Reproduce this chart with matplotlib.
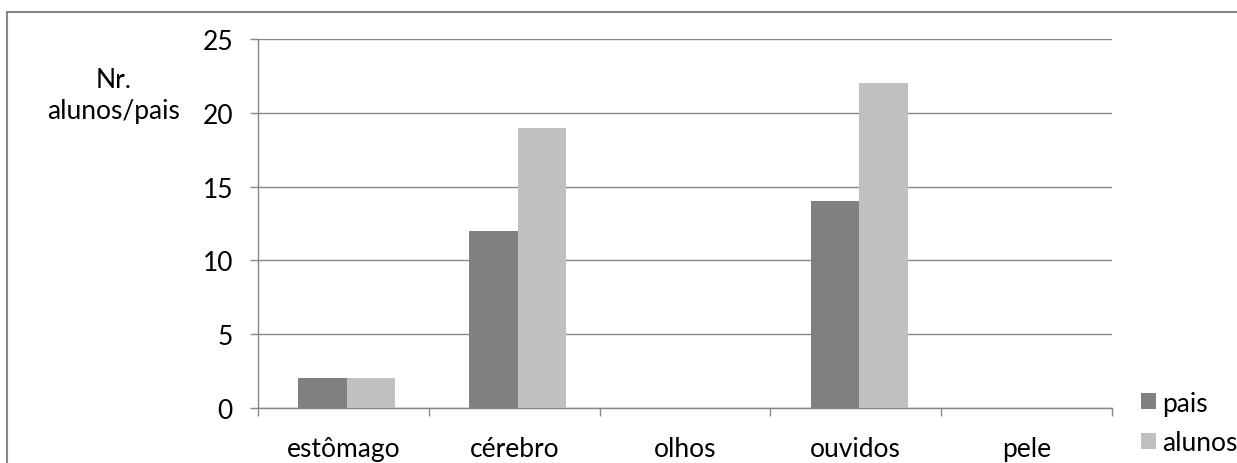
import numpy as np
import matplotlib.pyplot as plt
from matplotlib.patches import Rectangle

categorias = ["estômago", "cérebro", "olhos", "ouvidos", "pele"]
pais = [2, 12, 0, 14, 0]
alunos = [2, 19, 0, 22, 0]
yticks = [0, 5, 10, 15, 20, 25]

plt.rcParams['font.family'] = ['Lato', 'DejaVu Sans']
plt.rcParams['font.size'] = 19

W, H = 1237, 464
fig = plt.figure(figsize=(W / 100, H / 100), dpi=100)
ax = fig.add_axes([258 / W, 1 - 409 / H, (1112 - 258) / W, (409 - 40) / H])

grid_c = "#868686"
x = np.arange(len(categorias)) + 0.02
w = 0.285
b1 = ax.bar(x - w / 2, pais, w, color="#808080", label="pais", zorder=3)
b2 = ax.bar(x + w / 2, alunos, w, color="#c0c0c0", label="alunos", zorder=3)

ax.set_xlim(-0.5, len(categorias) - 0.5)
ax.set_ylim(0, 25)
ax.set_yticks(yticks)
ax.yaxis.grid(True, color=grid_c, linewidth=1, zorder=0)
ax.set_xticks(np.arange(len(categorias)))
ax.set_xticklabels(categorias)
ax.tick_params(axis="x", length=0, pad=20)
ax.tick_params(axis="y", length=6, color=grid_c, pad=12, width=1)
# marcas nas fronteiras das categorias
ax.set_xticks(np.arange(len(categorias) + 1) - 0.5, minor=True)
ax.tick_params(axis="x", which="minor", length=6, color=grid_c, width=1)

for s in ["top", "right"]:
    ax.spines[s].set_visible(False)
for s in ["left", "bottom"]:
    ax.spines[s].set_color(grid_c)
    ax.spines[s].set_linewidth(1)

fig.text(114 / W, 1 - 96 / H, "Nr.\nalunos/pais", ha="center", va="center",
         fontsize=19, linespacing=1.3)

fig.legend(handles=[b1, b2], loc="center left",
           bbox_to_anchor=(1141 / W, 1 - 424 / H), frameon=False,
           handlelength=0.55, handleheight=0.55, handletextpad=0.25,
           labelspacing=0.55, borderaxespad=0, borderpad=0, fontsize=19)

fig.patches.append(Rectangle((7 / W, -0.1), 1.2, 1 - 13 / H + 0.1,
                             transform=fig.transFigure, fill=False,
                             edgecolor="#868686", linewidth=1.5))

fig.savefig("out.png", dpi=100)
